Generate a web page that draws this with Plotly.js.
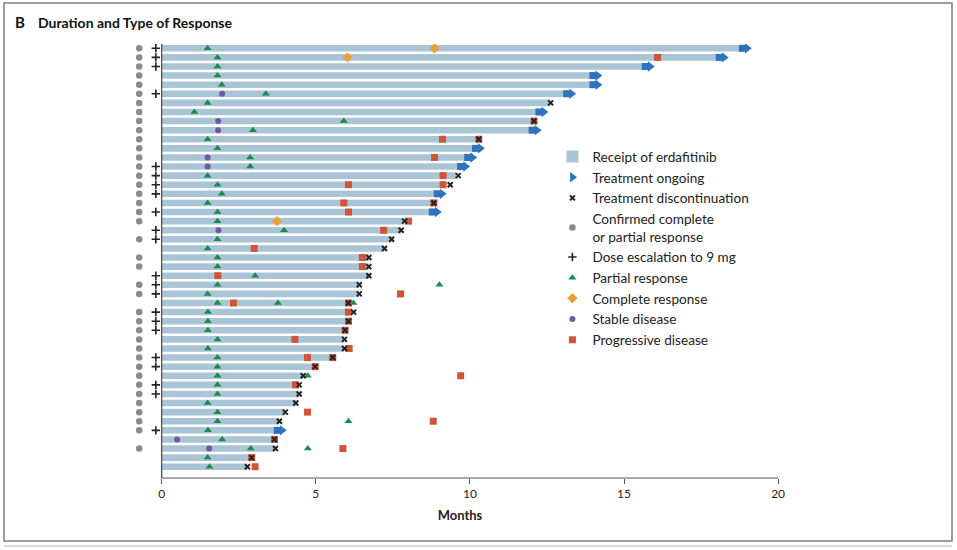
<!DOCTYPE html>
<html>
<head>
<meta charset="utf-8">
<script src="https://cdn.plot.ly/plotly-3.0.1.min.js"></script>
<style>html,body{margin:0;padding:0;background:#fff;}#chart{width:957px;height:550px;}</style>
</head>
<body>
<div id="chart"></div>
<script>
// ---- data (rows top to bottom) ----
const barEnd = [18.9,18.15,15.75,14.05,14.05,13.2,12.62,12.3,12.08,12.08,10.29,10.24,9.99,9.76,9.55,9.2,9.0,8.83,8.84,7.88,7.77,7.46,7.23,6.72,6.72,6.72,6.41,6.41,6.06,6.1,6.06,5.95,5.93,5.93,5.55,4.98,4.59,4.46,4.46,4.35,4.01,3.82,3.81,3.66,3.69,2.92,2.78];
const ongoing = [1,1,1,1,1,1,0,1,0,1,0,1,1,1,0,0,1,0,1,0,0,0,0,0,0,0,0,0,0,0,0,0,0,0,0,0,0,0,0,0,0,0,1,0,0,0,0];
const stopAt = [null,null,null,null,null,null,12.62,null,12.08,null,10.29,null,null,null,9.62,9.36,null,8.83,null,7.88,7.77,7.46,7.23,6.72,6.72,6.72,6.41,6.41,6.06,6.23,6.06,5.95,5.93,5.93,5.55,4.98,4.59,4.46,4.46,4.35,4.01,3.82,null,3.66,3.69,2.92,2.78];
const confirmed = [1,1,1,1,1,1,1,1,1,1,1,1,1,1,1,1,1,1,1,1,0,1,0,1,1,0,1,1,0,1,1,1,1,1,1,1,1,1,1,1,1,1,1,0,1,0,0];
const escalated = [1,1,1,0,0,1,0,0,0,0,0,0,0,1,1,1,1,0,1,0,1,1,0,0,0,1,1,1,0,1,1,1,0,0,1,1,0,1,1,0,0,0,1,0,0,0,0];
const partialResp = [[1.49],[1.81],[1.81],[1.81],[1.95],[3.38],[1.49],[1.06],[5.91],[2.96],[1.49],[1.81],[2.87],[2.87],[1.49],[1.81],[1.95],[1.49],[1.81],[1.81],[3.97],[1.81],[1.49],[1.81],[1.81],[3.03],[1.81,9.01],[1.49],[1.81,3.77,6.22],[1.5],[1.5],[1.5],[1.81],[1.5],[1.81],[1.81],[1.81,4.74],[1.81],[1.81],[1.49],[1.81],[1.81,6.06],[1.5],[1.96],[2.89,4.74],[1.49],[1.55]];
const completeResp = [[8.85],[6.03],[],[],[],[],[],[],[],[],[],[],[],[],[],[],[],[],[],[3.74],[],[],[],[],[],[],[],[],[],[],[],[],[],[],[],[],[],[],[],[],[],[],[],[],[],[],[]];
const stableDis = [[],[],[],[],[],[1.96],[],[],[1.83],[1.83],[],[],[1.49],[1.49],[],[],[],[],[],[],[1.84],[],[],[],[],[],[],[],[],[],[],[],[],[],[],[],[],[],[],[],[],[],[],[0.5],[1.54],[],[]];
const progressive = [[],[16.09],[],[],[],[],[],[],[12.08],[],[9.11,10.29],[],[8.85],[],[9.13],[6.06,9.13],[],[5.91,8.83],[6.06],[8.01],[7.2],[],[3.0],[6.51],[6.51],[1.82],[],[7.75],[2.33,6.06],[6.06],[6.06],[5.95],[4.32],[6.08],[4.73,5.55],[4.98],[9.7],[4.34],[],[],[4.73],[8.81],[],[3.66],[5.88],[2.92],[3.03]];
const xTicks = [0,5,10,15,20];
const legendNames = ['Receipt of erdafitinib','Treatment ongoing','Treatment discontinuation','Confirmed complete<br>or partial response','Dose escalation to 9 mg','Partial response','Complete response','Stable disease','Progressive disease'];

// ---- build ----
const rows = barEnd.map((_, i) => i + 1);
const FONT = 'Lato, "Liberation Sans", Arial, sans-serif';
function flat(list) {
  const xs = [], ys = [];
  list.forEach((vals, i) => vals.forEach(v => { xs.push(v); ys.push(i + 1); }));
  return {x: xs, y: ys};
}
const ongX = [], ongY = [];
ongoing.forEach((o, i) => { if (o) { ongX.push(barEnd[i]); ongY.push(i + 1); } });
const stX = [], stY = [];
stopAt.forEach((v, i) => { if (v !== null) { stX.push(v); stY.push(i + 1); } });
const cY = rows.filter((r, i) => confirmed[i]);
const eY = rows.filter((r, i) => escalated[i]);
const pr = flat(partialResp), cr = flat(completeResp), sd = flat(stableDis), pd = flat(progressive);

const traces = [
  {type:'bar', orientation:'h', x:barEnd, y:rows, base:0, width:0.72, marker:{color:'#a9c5d5'},
   name:legendNames[0], legendrank:1, hoverinfo:'x+y'},
  {type:'scatter', mode:'markers', x:ongX.map(v => v - 0.06), y:ongY, marker:{symbol:'square', size:7, color:'#2f72bd'},
   showlegend:false, hoverinfo:'skip'},
  {type:'scatter', mode:'markers', x:ongX.map(v => v + 0.1), y:ongY, marker:{symbol:'triangle-right', size:9, color:'#2f72bd'},
   name:legendNames[1], legendrank:2},
  {type:'scatter', mode:'markers', x:cY.map(() => -0.73), y:cY, marker:{symbol:'circle', size:6.5, color:'#8a8a8a'},
   name:legendNames[3], legendrank:4, cliponaxis:false},
  {type:'scatter', mode:'markers', x:eY.map(() => -0.19), y:eY, marker:{symbol:'cross-thin', size:6, color:'#222', line:{width:1.6, color:'#222'}},
   name:legendNames[4], legendrank:5, cliponaxis:false},
  {type:'scatter', mode:'markers', x:sd.x, y:sd.y, marker:{symbol:'circle', size:6, color:'#7357a5'},
   name:legendNames[7], legendrank:8},
  {type:'scatter', mode:'markers', x:pr.x, y:pr.y, marker:{symbol:'triangle-up', size:7, color:'#1a8a50'},
   name:legendNames[5], legendrank:6},
  {type:'scatter', mode:'markers', x:cr.x, y:cr.y, marker:{symbol:'diamond', size:8, color:'#e8a03c'},
   name:legendNames[6], legendrank:7},
  {type:'scatter', mode:'markers', x:pd.x, y:pd.y, marker:{symbol:'square', size:7, color:'#cf5438'},
   name:legendNames[8], legendrank:9},
  {type:'scatter', mode:'markers', x:stX, y:stY, marker:{symbol:'x-thin', size:5, color:'#222', line:{width:2, color:'#222'}},
   name:legendNames[2], legendrank:3}
];

const xr = [-1.0286, 20.386];
const px = v => (v - xr[0]) / (xr[1] - xr[0]);

const layout = {
  width:957, height:550,
  margin:{l:130, r:167, t:44, b:72},
  paper_bgcolor:'#fff', plot_bgcolor:'#fff',
  font:{family:FONT, size:12, color:'#222'},
  showlegend:true,
  legend:{x:0.64, y:0.776, xanchor:'left', yanchor:'top', bgcolor:'rgba(0,0,0,0)',
          font:{family:FONT, size:13.6, color:'#222'}, tracegroupgap:0, itemwidth:30},
  xaxis:{range:xr, tickvals:xTicks, ticktext:xTicks.map(String), showgrid:false, zeroline:false, showline:false,
         ticks:'outside', ticklen:5, tickcolor:'#555', tickwidth:1, tickfont:{family:FONT, size:12, color:'#222'},
         title:{text:'<b>Months</b>', font:{family:FONT, size:13, color:'#222'}, standoff:10}, fixedrange:true},
  yaxis:{range:[48.24, 0.527], showticklabels:false, showgrid:false, zeroline:false, showline:false, ticks:'', fixedrange:true},
  shapes:[
    {type:'line', xref:'paper', yref:'paper', x0:px(0), x1:px(20), y0:0, y1:0, line:{color:'#555', width:1}},
    {type:'line', xref:'paper', yref:'paper', x0:px(0), x1:px(0), y0:0, y1:1, line:{color:'#444', width:1.2}},
    {type:'rect', xref:'paper', yref:'paper', x0:(4-130)/660, x1:(952-130)/660, y0:(478-541)/434, y1:(478-3)/434,
     line:{color:'#7f7f7f', width:1.5}},
    {type:'line', xref:'paper', yref:'paper', x0:(4-130)/660, x1:(952-130)/660, y0:(478-546)/434, y1:(478-546)/434,
     line:{color:'#cfcfcf', width:1.5}}
  ],
  annotations:[
    {xref:'paper', yref:'paper', x:(13-130)/660, y:(478-22)/434, xanchor:'left', yanchor:'middle', showarrow:false,
     text:'<b>B</b>', font:{family:FONT, size:15, color:'#111'}},
    {xref:'paper', yref:'paper', x:(36-130)/660, y:(478-22)/434, xanchor:'left', yanchor:'middle', showarrow:false,
     text:'<b>Duration and Type of Response</b>', font:{family:FONT, size:14, color:'#111'}}
  ]
};

Plotly.newPlot('chart', traces, layout, {displayModeBar:false, staticPlot:true});
</script>
</body>
</html>
